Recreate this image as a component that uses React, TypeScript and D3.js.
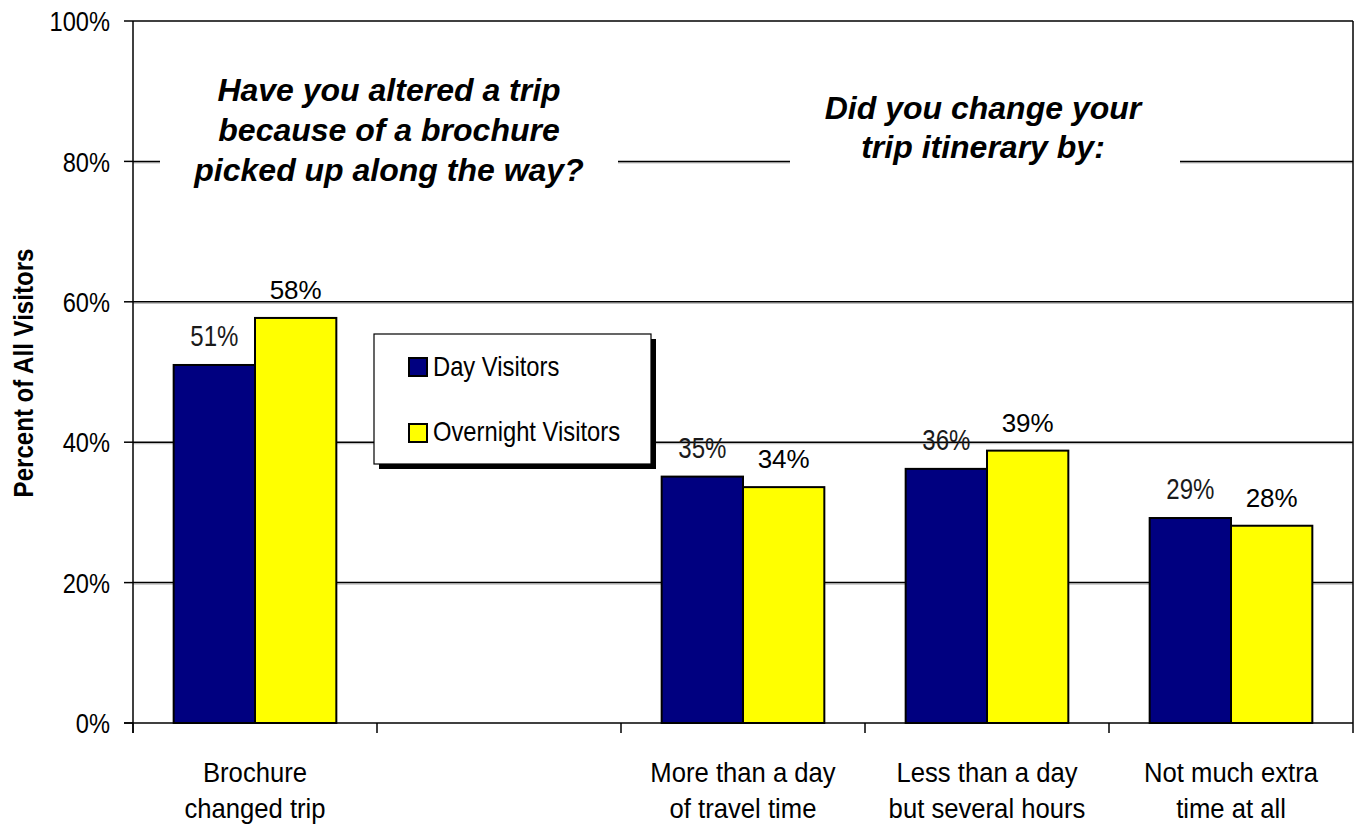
import React from "react";
import * as d3 from "d3";

const categories = ["Brochure|changed trip", "", "More than a day|of travel time", "Less than a day|but several hours", "Not much extra|time at all"];
const seriesNames = ["Day Visitors", "Overnight Visitors"];
const dayValues: (number | null)[] = [51.0, null, 35.1, 36.2, 29.2];
const overnightValues: (number | null)[] = [57.7, null, 33.6, 38.8, 28.1];
const yTicks = [0, 20, 40, 60, 80, 100];
const colors = ["#000080", "#FFFF00"];
const leftTitle = ["Have you altered a trip", "because of a brochure", "picked up along the way?"];
const rightTitle = ["Did you change your", "trip itinerary by:"];
const yAxisTitle = "Percent of All Visitors";

const SANS = "'Liberation Sans', Arial, sans-serif";

function NText(props: { x: number; y: number; sx: number; size: number; anchor?: string; bold?: boolean; rotate?: number; dy?: string; fill?: string; children: React.ReactNode }) {
  const { x, y, sx, size, anchor = "start", bold, rotate = 0, dy, fill = "#000", children } = props;
  return (
    <text transform={`translate(${x},${y}) rotate(${rotate}) scale(${sx},1)`} x={0} y={0} dy={dy}
      textAnchor={anchor} fontFamily={SANS} fontSize={size} fontWeight={bold ? "bold" : "normal"} fill={fill}>
      {children}
    </text>
  );
}

export default function App() {
  const W = 1355, H = 829;
  const left = 133, right = 1353, top = 21, bottom = 723;
  const x0 = d3.scaleBand<number>().domain(d3.range(categories.length)).range([left, right]).paddingInner(0).paddingOuter(0);
  const x1 = d3.scaleBand<number>().domain([0, 1]).range([0, x0.bandwidth()]).paddingInner(0).paddingOuter(0.5);
  const y = d3.scaleLinear().domain([0, 100]).range([bottom, top]);
  const series = [dayValues, overnightValues];
  const boundaries = d3.range(categories.length + 1).map((i) => left + i * x0.step());

  return (
    <svg width={W} height={H} style={{ position: "absolute", left: 0, top: 0, background: "#fff" }}>
      {yTicks.filter((t) => t > 0 && t < 100).map((t) => (
        <g key={"g" + t}>
          <line x1={left} x2={right} y1={y(t) + 1.5} y2={y(t) + 1.5} stroke="#b0b0b0" strokeWidth={1} />
          <line x1={left} x2={right} y1={y(t)} y2={y(t)} stroke="#000" strokeWidth={1.5} />
        </g>
      ))}
      <line x1={left} x2={right} y1={top} y2={top} stroke="#000" strokeWidth={1.5} />
      <line x1={right} x2={right} y1={top} y2={bottom} stroke="#000" strokeWidth={1.5} />
      <rect x={160} y={68} width={458} height={128} fill="#fff" />
      <rect x={790} y={86} width={390} height={84} fill="#fff" />
      {leftTitle.map((s, i) => (
        <text key={"lt" + i} x={389} y={101 + i * 40} textAnchor="middle" fontFamily={SANS} fontWeight="bold" fontStyle="italic" fontSize={32} fill="#000">{s}</text>
      ))}
      {rightTitle.map((s, i) => (
        <text key={"rt" + i} x={983} y={119 + i * 39} textAnchor="middle" fontFamily={SANS} fontWeight="bold" fontStyle="italic" fontSize={32} fill="#000">{s}</text>
      ))}
      {categories.map((c, ci) => (
        <g key={"c" + ci}>
          {series.map((vals, si) => {
            const v = vals[ci];
            if (v == null) return null;
            const bx = (x0(ci) as number) + (x1(si) as number);
            return (
              <rect key={"b" + si} x={bx} y={y(v)} width={x1.bandwidth()} height={bottom - y(v)} fill={colors[si]} stroke="#000" strokeWidth={2} />
            );
          })}
        </g>
      ))}
      {categories.map((c, ci) => (
        <g key={"l" + ci}>
          {series.map((vals, si) => {
            const v = vals[ci];
            if (v == null) return null;
            const cx = (x0(ci) as number) + (x1(si) as number) + x1.bandwidth() / 2;
            return si === 0 ? (
              <NText key={"t" + si} x={cx} y={y(v) - 19} sx={0.83} size={29} anchor="middle" fill="#1a1a1a">{Math.round(v) + "%"}</NText>
            ) : (
              <NText key={"t" + si} x={cx} y={y(v) - 19} sx={1} size={26} anchor="middle">{Math.round(v) + "%"}</NText>
            );
          })}
        </g>
      ))}
      <line x1={124} x2={right} y1={bottom} y2={bottom} stroke="#000" strokeWidth={1.5} />
      <line x1={left} x2={left} y1={top} y2={bottom + 10} stroke="#000" strokeWidth={1.5} />
      {yTicks.map((t) => (
        <g key={"yt" + t}>
          <line x1={124} x2={left} y1={y(t)} y2={y(t)} stroke="#000" strokeWidth={1.5} />
          <NText x={110} y={y(t)} dy="0.36em" sx={0.83} size={28.5} anchor="end">{t + "%"}</NText>
        </g>
      ))}
      {boundaries.map((b, i) => (
        <line key={"xt" + i} x1={b} x2={b} y1={bottom} y2={bottom + 10} stroke="#000" strokeWidth={1.5} />
      ))}
      {categories.map((c, ci) => (
        <g key={"cl" + ci}>
          {c.split("|").map((line, li) => (
            <NText key={li} x={(x0(ci) as number) + x0.bandwidth() / 2} y={782 + li * 36} sx={0.9} size={28.5} anchor="middle">{line}</NText>
          ))}
        </g>
      ))}
      <NText x={33} y={373} rotate={-90} sx={0.86} size={28} bold anchor="middle">{yAxisTitle}</NText>
      <rect x={379} y={339} width={277} height={130} fill="#000" />
      <rect x={374} y={334} width={277} height={130} fill="#fff" stroke="#000" strokeWidth={1.2} />
      {seriesNames.map((s, i) => (
        <g key={"lg" + i}>
          <rect x={409} y={358 + i * 66} width={18} height={18} fill={colors[i]} stroke="#000" strokeWidth={2} />
          <NText x={433} y={376 + i * 65} sx={0.88} size={27} >{s}</NText>
        </g>
      ))}
    </svg>
  );
}
